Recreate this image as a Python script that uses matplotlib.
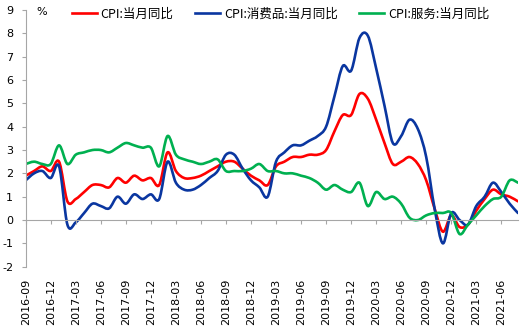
import numpy as np
import pandas as pd
import matplotlib
matplotlib.use("Agg")
import matplotlib.pyplot as plt
from matplotlib.path import Path
from matplotlib.patches import PathPatch
from matplotlib.lines import Line2D

plt.rcParams["axes.unicode_minus"] = False

# 月份 2016-09 ~ 2021-08
months = pd.date_range("2016-09", periods=60, freq="MS").strftime("%Y-%m").tolist()

# CPI:当月同比
cpi = [1.9, 2.1, 2.3, 2.1,
       2.5, 0.8, 0.9, 1.2, 1.5, 1.5, 1.4, 1.8, 1.6, 1.9, 1.7, 1.8,
       1.5, 2.9, 2.1, 1.8, 1.8, 1.9, 2.1, 2.3, 2.5, 2.5, 2.2, 1.9,
       1.7, 1.5, 2.3, 2.5, 2.7, 2.7, 2.8, 2.8, 3.0, 3.8, 4.5, 4.5,
       5.4, 5.2, 4.3, 3.3, 2.4, 2.5, 2.7, 2.4, 1.7, 0.5, -0.5, 0.2,
       -0.3, -0.2, 0.4, 0.9, 1.3, 1.1, 1.0, 0.8]
# CPI:消费品:当月同比
cpi_goods = [1.7, 2.0, 2.1, 1.8,
             2.3, -0.2, -0.1, 0.3, 0.7, 0.6, 0.5, 1.0, 0.7, 1.1, 0.9, 1.1,
             0.9, 2.5, 1.6, 1.3, 1.3, 1.5, 1.8, 2.1, 2.8, 2.8, 2.2, 1.7,
             1.4, 1.0, 2.5, 2.9, 3.2, 3.2, 3.4, 3.6, 4.0, 5.3, 6.6, 6.4,
             7.8, 7.9, 6.5, 4.9, 3.3, 3.6, 4.3, 3.9, 2.7, 0.5, -1.0, 0.3,
             0.0, -0.2, 0.6, 1.0, 1.6, 1.2, 0.7, 0.3]
# CPI:服务:当月同比
cpi_service = [2.4, 2.5, 2.4, 2.4,
               3.2, 2.4, 2.8, 2.9, 3.0, 3.0, 2.9, 3.1, 3.3, 3.2, 3.1, 3.1,
               2.3, 3.6, 2.8, 2.6, 2.5, 2.4, 2.5, 2.6, 2.1, 2.1, 2.1, 2.2,
               2.4, 2.1, 2.1, 2.0, 2.0, 1.9, 1.8, 1.6, 1.3, 1.5, 1.3, 1.2,
               1.6, 0.6, 1.2, 0.9, 1.0, 0.7, 0.1, 0.0, 0.2, 0.3, 0.3, 0.3,
               -0.6, -0.2, 0.2, 0.6, 0.9, 1.0, 1.7, 1.6]

labels = ["CPI:当月同比", "CPI:消费品:当月同比", "CPI:服务:当月同比"]
colors = ["#ff0000", "#0a36a0", "#00b050"]


def smooth_path(xs, ys):
    # excel风格平滑线 (贝塞尔曲线)
    pts = np.column_stack([xs, ys]).astype(float)
    n = len(pts)
    verts = [pts[0]]
    codes = [Path.MOVETO]
    for k in range(n - 1):
        p0 = pts[k - 1] if k > 0 else pts[k]
        p1 = pts[k]
        p2 = pts[k + 1]
        p3 = pts[k + 2] if k + 2 < n else pts[k + 1]
        verts += [p1 + (p2 - p0) / 6, p2 - (p3 - p1) / 6, p2]
        codes += [Path.CURVE4] * 3
    return Path(verts, codes)


W, H = 527, 329
fig = plt.figure(figsize=(W / 100, H / 100), dpi=100)
ax = fig.add_axes([25.7 / W, 1 - 266.7 / H, (518 - 25.7) / W, (266.7 - 10) / H])

x = np.arange(len(months))
for ys, c in zip([cpi, cpi_goods, cpi_service], colors):
    ax.add_patch(PathPatch(smooth_path(x, ys), facecolor="none", edgecolor=c,
                           lw=1.9, capstyle="round", joinstyle="round"))

ax.set_xlim(0, len(months) - 1)
ax.set_ylim(-2, 9)
ax.set_yticks(range(-2, 10))
ax.set_xticks(x[::3])
ax.set_xticklabels(months[::3])

gray = "#a6a6a6"
for s in ["top", "right"]:
    ax.spines[s].set_visible(False)
ax.spines["left"].set_color(gray)
ax.spines["bottom"].set_color(gray)
ax.spines["bottom"].set_position(("data", 0))
ax.spines["left"].set_linewidth(0.8)
ax.spines["bottom"].set_linewidth(0.8)

ax.tick_params(axis="y", direction="out", length=3, color=gray, pad=6,
               labelsize=8, labelcolor="black")
ax.tick_params(axis="x", direction="out", length=3, color=gray, pad=39,
               labelsize=8, labelrotation=90, labelcolor="black")

ax.text(41.7 / W, 1 - 12.3 / H, "%", transform=fig.transFigure, fontsize=8,
        ha="center", va="center")

handles = [Line2D([], [], color=c, lw=1.9) for c in colors]
fig.legend(handles, labels, loc="center", bbox_to_anchor=(280.5 / W, 1 - 14 / H),
           ncol=3, frameon=False, handlelength=2.0, handletextpad=0.3,
           columnspacing=1.75,
           prop={"family": ["Noto Sans CJK SC", "DejaVu Sans"], "size": 9})

fig.savefig("out.png", dpi=100)
